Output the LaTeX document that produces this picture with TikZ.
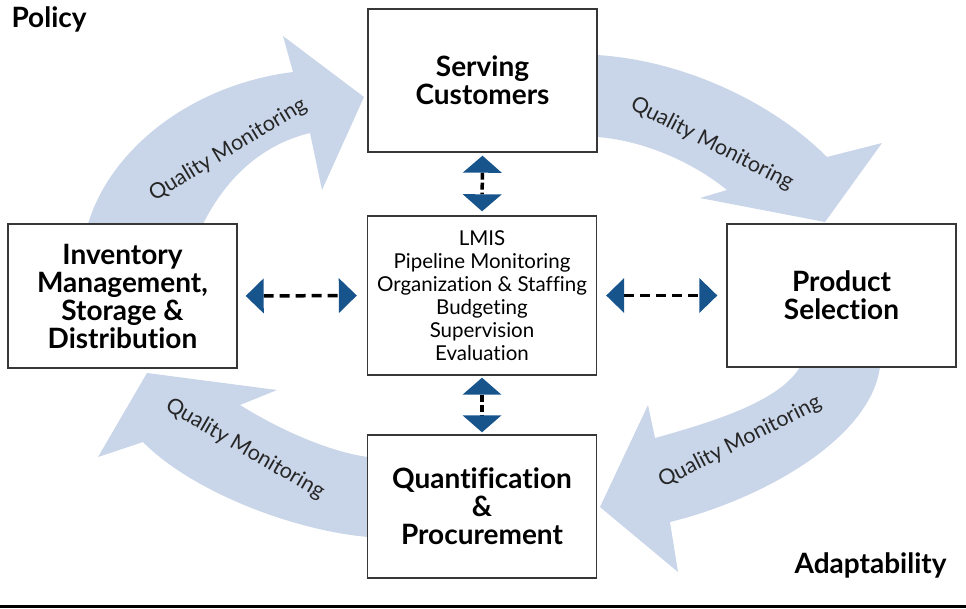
\documentclass[tikz,border=0pt]{standalone}
\usepackage{fontspec}
\setmainfont{Lato}[Ligatures=NoCommon]
\usetikzlibrary{arrows.meta}
\definecolor{flowcolor}{RGB}{201,213,232}
\definecolor{linkcolor}{RGB}{24,84,140}
\definecolor{framecolor}{RGB}{55,55,55}

\begin{document}
\begin{tikzpicture}[x=1pt,y=-1pt,
    stage/.style={draw=framecolor,line width=1.4pt,fill=white,align=center,inner sep=0pt,
        minimum width=229pt,minimum height=143pt,font=\fontsize{28}{28}\selectfont\bfseries},
    hub/.style={stage,minimum height=159pt,font=\fontsize{20.5}{23}\selectfont},
    corner/.style={font=\fontsize{28}{28}\selectfont\bfseries},
    qm/.style={font=\fontsize{21.5}{24}\selectfont,text=black!85},
    hlink/.style={draw=black,line width=3.5pt,dash pattern=on 10pt off 6pt,
        {Triangle[width=35pt,length=18pt,line width=0pt,color=linkcolor]}-{Triangle[width=35pt,length=18pt,line width=0pt,color=linkcolor]}},
    vlink/.style={draw=black,line width=3.5pt,dash pattern=on 7pt off 3pt,
        {Triangle[width=39pt,length=17pt,line width=0pt,color=linkcolor]}-{Triangle[width=39pt,length=17pt,line width=0pt,color=linkcolor]}}]
    \useasboundingbox (0,0) rectangle (966,608);

    % Big cycle arrows (behind the boxes)
    \fill[flowcolor] (88,224) .. controls (110,150) and (190,85) .. (293,72) -- (283,36) -- (364,97)
        -- (322,190) -- (310,133) .. controls (260,145) and (225,180) .. (203,224) -- cycle;
    \fill[flowcolor] (597,55) .. controls (680,60) and (770,100) .. (827,157) -- (882,143) -- (825,222)
        -- (700,198) -- (727,190) .. controls (690,160) and (640,140) .. (597,137) -- cycle;
    \fill[flowcolor] (880,367) .. controls (870,440) and (760,500) .. (670,522) -- (678,572) -- (600,507)
        -- (648,405) -- (655,438) .. controls (720,420) and (780,400) .. (800,367) -- cycle;
    \fill[flowcolor] (368,537) .. controls (290,530) and (190,490) .. (143,442) -- (98,457) -- (147,373)
        -- (277,390) -- (240,405) .. controls (280,430) and (330,452) .. (368,457) -- cycle;

    % Labels on the arrows
    \foreach \x/\y/\ang [count=\i] in {228/150/31, 712/144/-27, 740/442/27, 245/449/-30}{
        \node[qm,rotate=\ang] (qm\i) at (\x,\y) {Quality Monitoring};
    }

    % Boxes
    \node[stage] (serve) at (482.5,80.5) {Serving\\Customers};
    \node[hub] (lmis) at (482,295.5) {LMIS\\Pipeline Monitoring\\Organization \& Staffing\\Budgeting\\Supervision\\Evaluation};
    \node[stage,minimum height=144pt] (inventory) at (122.5,296) {Inventory\\Management,\\Storage \&\\Distribution};
    \node[stage] (product) at (841.5,295.5) {Product\\Selection};
    \node[stage] (quant) at (482,506.5) {Quantification\\\&\\Procurement};

    % Dashed links to the centre
    \draw[hlink,shorten <=8pt,shorten >=10pt] (inventory.east) -- (lmis.west);
    \draw[hlink,shorten <=9pt,shorten >=9pt] (lmis.east) -- (product.west);
    \draw[vlink,shorten <=3pt,shorten >=4pt] (serve.south) -- (lmis.north);
    \draw[vlink,shorten <=2pt,shorten >=2pt] (lmis.south) -- (quant.north);

    \node[corner,anchor=west] (policy) at (8,19) {Policy};
    \node[corner,anchor=east] (adapt) at (950,565) {Adaptability};

    \fill (0,605) rectangle (966,608);
\end{tikzpicture}
\end{document}
